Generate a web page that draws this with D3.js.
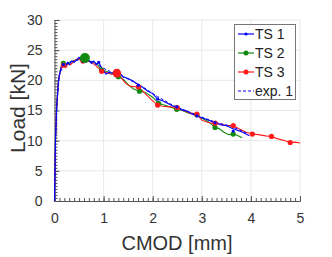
<!DOCTYPE html>
<html><head><meta charset="utf-8">
<script src="https://cdn.jsdelivr.net/npm/d3@7"></script>
<style>body{margin:0;background:#fff;}svg{display:block;font-family:"Liberation Sans",Arial,sans-serif;}</style>
</head><body>
<svg id="c" width="332" height="257"></svg>
<script>
const xTicks = [0,1,2,3,4,5];
const yTicks = [0,5,10,15,20,25,30];
const seriesNames = ["TS 1","TS 2","TS 3","exp. 1"];
const ts1 = [[0,0],[0.01,5],[0.02,10],[0.04,15],[0.08,20],[0.13,22],[0.18,22.6],[0.22,22.3],[0.27,23.0],[0.3,22.6],[0.35,23.2],[0.4,23.0],[0.45,23.4],[0.5,23.8],[0.55,23.3],[0.6,23.2],[0.65,23.0],[0.7,23.3],[0.75,22.8],[0.8,23.2],[0.85,22.6],[0.9,23.0],[0.95,22.2],[1.0,21.6],[1.05,21.0],[1.1,21.3],[1.2,21.2],[1.3,21.4],[1.4,20.6],[1.5,20.3],[1.6,19.9],[1.7,19.3],[1.8,18.8],[1.9,18.2],[2.0,17.8],[2.1,16.9],[2.2,16.6],[2.3,16.2],[2.4,15.8],[2.5,15.5],[2.6,15.1],[2.7,14.9],[2.8,14.4],[2.9,14.1],[3.0,13.8],[3.1,13.5],[3.2,13.2],[3.3,12.9],[3.4,12.6],[3.5,12.5],[3.6,12.1],[3.7,11.8],[3.8,11.5],[3.9,11.1],[3.97,10.8]];
const ts2 = [[0,0],[0.01,5],[0.02,10],[0.04,15],[0.08,20],[0.13,22.2],[0.18,22.8],[0.25,22.6],[0.3,23.0],[0.4,23.3],[0.5,23.6],[0.62,23.7],[0.7,23.2],[0.8,23.0],[0.88,22.6],[0.96,21.7],[1.05,21.5],[1.15,21.2],[1.3,20.6],[1.4,20.2],[1.5,19.3],[1.6,18.6],[1.73,18.2],[1.85,18.0],[2.0,17.2],[2.12,16.2],[2.2,16.0],[2.35,15.6],[2.49,15.2],[2.6,15.0],[2.75,14.5],[2.9,14.3],[3.0,13.7],[3.1,13.3],[3.2,12.7],[3.27,12.2],[3.35,12.0],[3.45,11.4],[3.55,11.0],[3.64,11.1],[3.72,10.9],[3.82,10.5]];
const ts3 = [[0,0],[0.01,5],[0.02,10],[0.04,15],[0.08,20],[0.13,22],[0.18,22.5],[0.23,22.1],[0.28,22.8],[0.33,22.6],[0.4,23.2],[0.48,23.6],[0.55,23.2],[0.65,23.3],[0.75,23.0],[0.85,22.4],[0.96,21.5],[1.05,21.3],[1.15,21.0],[1.27,21.2],[1.35,20.5],[1.45,19.5],[1.55,19.0],[1.71,18.9],[1.8,18.2],[1.9,17.4],[2.0,16.6],[2.1,15.9],[2.2,15.7],[2.35,15.6],[2.5,15.5],[2.6,15.1],[2.75,14.6],[2.9,14.4],[3.0,13.4],[3.1,13.1],[3.2,12.9],[3.27,12.9],[3.4,12.7],[3.5,12.5],[3.64,12.5],[3.75,12.0],[3.9,11.4],[4.03,11.1],[4.15,11.0],[4.3,10.8],[4.42,10.7],[4.55,10.3],[4.7,10.0],[4.8,9.7],[4.9,9.75],[5.0,9.6]];
const exp1 = [[0,0],[0.02,10],[0.05,16],[0.1,21],[0.2,22.7],[0.4,23.2],[0.55,23.5],[0.8,23.0],[1.0,22.0],[1.2,21.2],[1.5,20.2],[1.8,18.9],[2.1,17.3],[2.4,15.9],[2.7,14.9],[3.0,13.9],[3.3,13.0],[3.6,12.4],[3.9,11.3]];
const ts1Marks = [[0.18,22.6],[0.58,23.2],[0.9,23.0],[1.3,21.4],[1.71,19.2],[2.1,16.9],[2.49,15.6],[2.9,14.1],[3.27,13.0],[3.64,11.6]];
const ts2Marks = [[0.18,22.8],[0.96,21.7],[1.3,20.6],[1.73,18.2],[2.12,16.2],[2.49,15.2],[2.9,14.3],[3.27,12.2],[3.64,11.1]];
const ts3Marks = [[0.18,22.5],[0.58,23.2],[0.96,21.5],[1.71,18.9],[2.1,15.9],[2.5,15.5],[2.9,14.4],[3.27,12.9],[3.64,12.5],[4.03,11.1],[4.42,10.7],[4.8,9.7]];
const bigMarks = [[0.62,23.7,"TS 2"],[1.27,21.2,"TS 3"]];
const colors = {"TS 1":"#0000ff","TS 2":"#108a10","TS 3":"#ff1a1a","exp. 1":"#0000ff"};

const svg = d3.select("#c");
const L=54.5, R=300, T=20, B=201;
const x = d3.scaleLinear().domain([0,5]).range([L,R]);
const y = d3.scaleLinear().domain([0,30]).range([B,T]);

// grid
const g = svg.append("g");
g.selectAll(".vg").data(xTicks.slice(1)).join("line")
  .attr("x1",d=>x(d)).attr("x2",d=>x(d)).attr("y1",T).attr("y2",B)
  .attr("stroke","#e8e8e8").attr("stroke-width",1);
g.selectAll(".hg").data(yTicks.slice(1)).join("line")
  .attr("x1",L).attr("x2",R).attr("y1",d=>y(d)).attr("y2",d=>y(d))
  .attr("stroke","#e8e8e8").attr("stroke-width",1);

// axes
const axCol="#555";
const xMinor = d3.range(0,5.0001,0.1);
const yMinor = d3.range(0,30.0001,0.5);
const xa = svg.append("g").attr("transform",`translate(0,${B})`)
  .call(d3.axisBottom(x).tickValues(xMinor).tickSize(-3).tickFormat(""));
xa.select(".domain").remove();
xa.selectAll("line").attr("stroke",axCol);
const xa2 = svg.append("g").attr("transform",`translate(0,${B})`)
  .call(d3.axisBottom(x).tickValues(xTicks).tickSize(-5).tickPadding(12).tickFormat(d3.format("d")));
xa2.select(".domain").attr("stroke",axCol);
xa2.selectAll("line").attr("stroke",axCol);
xa2.selectAll("text").attr("font-size",14).attr("fill","#333").attr("font-family","Liberation Sans, Arial, sans-serif");
const ya = svg.append("g").attr("transform",`translate(${L},0)`)
  .call(d3.axisLeft(y).tickValues(yMinor).tickSize(-3).tickFormat(""));
ya.select(".domain").remove();
ya.selectAll("line").attr("stroke",axCol);
const ya2 = svg.append("g").attr("transform",`translate(${L},0)`)
  .call(d3.axisLeft(y).tickValues(yTicks).tickSize(-5).tickPadding(12).tickFormat(d3.format("d")));
ya2.select(".domain").attr("stroke",axCol);
ya2.selectAll("line").attr("stroke",axCol);
ya2.selectAll("text").attr("font-size",14).attr("fill","#333").attr("font-family","Liberation Sans, Arial, sans-serif");

svg.append("text").attr("x",177).attr("y",250).attr("text-anchor","middle")
  .attr("font-size",20).attr("fill","#333").text("CMOD [mm]");
svg.append("text").attr("transform","translate(25,108) rotate(-90)").attr("text-anchor","middle")
  .attr("font-size",21).attr("fill","#333").text("Load [kN]");

// lines
const line = d3.line().x(d=>x(d[0])).y(d=>y(d[1]));
const plot = svg.append("g");
plot.append("path").datum(ts2).attr("d",line).attr("fill","none").attr("stroke",colors["TS 2"]).attr("stroke-width",1.1);
plot.append("path").datum(ts3).attr("d",line).attr("fill","none").attr("stroke",colors["TS 3"]).attr("stroke-width",1.1);
plot.append("path").datum(ts1).attr("d",line).attr("fill","none").attr("stroke",colors["TS 1"]).attr("stroke-width",1.1);
plot.append("path").datum(exp1).attr("d",line).attr("fill","none").attr("stroke",colors["exp. 1"]).attr("stroke-width",1).attr("stroke-dasharray","3,2");

plot.selectAll(".m2").data(ts2Marks).join("circle").attr("cx",d=>x(d[0])).attr("cy",d=>y(d[1])).attr("r",2.6).attr("fill",colors["TS 2"]);
plot.selectAll(".m3").data(ts3Marks).join("circle").attr("cx",d=>x(d[0])).attr("cy",d=>y(d[1])).attr("r",2.6).attr("fill",colors["TS 3"]);
plot.selectAll(".m1").data(ts1Marks).join("circle").attr("cx",d=>x(d[0])).attr("cy",d=>y(d[1])).attr("r",1.6).attr("fill",colors["TS 1"]);
plot.selectAll(".mb").data(bigMarks).join("circle").attr("cx",d=>x(d[0])).attr("cy",d=>y(d[1])).attr("r",d=>d[2]==="TS 2"?5:4.3).attr("fill",d=>colors[d[2]]);

// legend
const lg = svg.append("g");
lg.append("rect").attr("x",234.5).attr("y",24.5).attr("width",61).attr("height",75)
  .attr("fill","#fff").attr("stroke","#777").attr("stroke-width",1);
seriesNames.forEach((n,i)=>{
  const yy = 34 + i*19;
  const ln = lg.append("line").attr("x1",238).attr("x2",254).attr("y1",yy).attr("y2",yy)
    .attr("stroke",colors[n]).attr("stroke-width",1.2);
  if(n==="exp. 1") ln.attr("stroke-dasharray","3,2");
  else lg.append("circle").attr("cx",246).attr("cy",yy).attr("r",n==="TS 1"?1.6:2.5).attr("fill",colors[n]);
  lg.append("text").attr("x",255).attr("y",yy+5).attr("font-size",14).attr("fill","#222").text(n);
});
</script>
</body></html>
